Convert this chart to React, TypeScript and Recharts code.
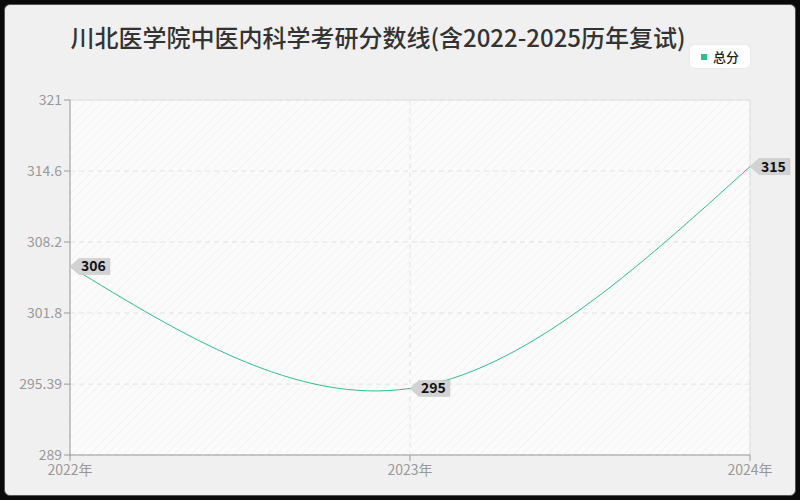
import React from 'react'
import { LineChart, Line, XAxis, YAxis, CartesianGrid, ReferenceLine } from 'recharts'

const years = ['2022年', '2023年', '2024年']
const totalScores = [306, 295, 315]
const yTicks = [289, 295.39, 301.8, 308.2, 314.6, 321]

const data = years.map((year, i) => ({ year, total: totalScores[i] }))

const FONT = '"Noto Sans CJK SC", "Noto Sans", sans-serif'

function TagLabel(props: any) {
  const { x, y, value } = props
  if (x == null || y == null) return null
  const w = 40
  const h = 16
  return (
    <g>
      <polygon
        points={`${x},${y} ${x + 9},${y - h / 2} ${x + w},${y - h / 2} ${x + w},${y + h / 2} ${x + 9},${y + h / 2}`}
        fill="#d2d2d2"
        stroke="#c4c4c4"
        strokeWidth={0.5}
      />
      <text x={x + 11} y={y + 5} fontSize={14} fontWeight={600} fill="#111" fontFamily={FONT}>
        {value}
      </text>
    </g>
  )
}

export default function App() {
  return (
    <div style={{ position: 'fixed', left: 0, top: 0, width: 800, height: 500, background: '#0a0a0a' }}>
      <div
        style={{
          position: 'absolute',
          left: 4,
          top: 4,
          width: 790,
          height: 490,
          background: '#f0f0f0',
          borderRadius: 6,
          border: '1px solid #555',
        }}
      />
      <div
        style={{
          position: 'absolute',
          left: 0,
          top: 19,
          width: 756,
          textAlign: 'center',
          fontSize: 24,
          fontWeight: 500,
          color: '#333',
          fontFamily: FONT,
          whiteSpace: 'nowrap',
        }}
      >
        川北医学院中医内科学考研分数线(含2022-2025历年复试)
      </div>
      <div
        style={{
          position: 'absolute',
          left: 690,
          top: 45,
          width: 60,
          height: 23,
          background: '#fff',
          borderRadius: 5,
          display: 'flex',
          alignItems: 'center',
          justifyContent: 'center',
          fontSize: 13,
          fontWeight: 500,
          color: '#222',
          fontFamily: FONT,
          boxShadow: '0 0 2px rgba(0,0,0,0.08)',
        }}
      >
        <span style={{ width: 6, height: 6, background: '#2fbf8c', display: 'inline-block', marginRight: 6 }} />
        总分
      </div>
      <div style={{ position: 'absolute', left: 0, top: 0 }}>
        <LineChart width={800} height={500} data={data} margin={{ top: 100, right: 50, bottom: 15, left: 0 }}>
          <defs>
            <pattern id="hatch" width="6" height="6" patternUnits="userSpaceOnUse" patternTransform="rotate(45)">
              <rect width="6" height="6" fill="#fbfbfb" />
              <line x1="0" y1="0" x2="0" y2="6" stroke="#f1f1f1" strokeWidth="1.5" />
            </pattern>
          </defs>
          <CartesianGrid stroke="#e2e2e2" strokeDasharray="5 4" fill="url(#hatch)" />
          <ReferenceLine y={321} stroke="#e0e0e0" />
          <ReferenceLine x="2024年" stroke="#e0e0e0" />
          <XAxis
            dataKey="year"
            height={30}
            padding={{ left: 0, right: 0 }}
            tick={{ fill: '#999', fontSize: 14, fontFamily: FONT }}
            tickLine={{ stroke: '#999' }}
            axisLine={{ stroke: '#999' }}
            tickMargin={4}
          />
          <YAxis
            width={70}
            domain={[289, 321]}
            ticks={yTicks}
            interval={0}
            tick={{ fill: '#999', fontSize: 14, fontFamily: FONT }}
            tickLine={{ stroke: '#999' }}
            axisLine={{ stroke: '#999' }}
          />
          <Line
            type="natural"
            dataKey="total"
            name="总分"
            stroke="#2fbf8c"
            strokeWidth={1}
            dot={false}
            activeDot={false}
            isAnimationActive={false}
            label={<TagLabel />}
          />
        </LineChart>
      </div>
    </div>
  )
}
